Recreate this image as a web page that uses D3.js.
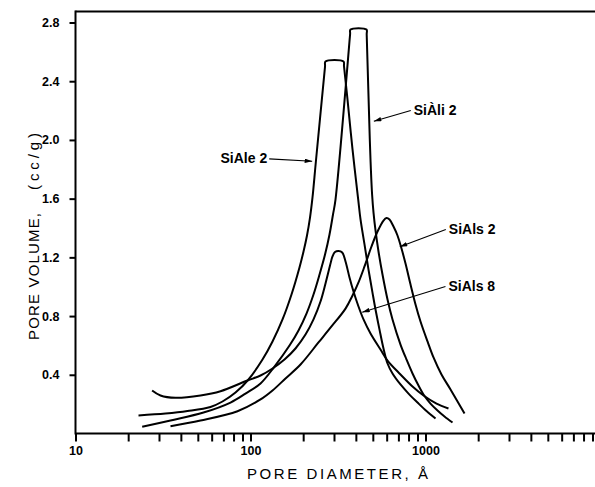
<!DOCTYPE html>
<html>
<head>
<meta charset="utf-8">
<script src="https://cdn.jsdelivr.net/npm/d3@7"></script>
<style>
body { margin: 0; background: #fff; }
svg { display: block; }
.axis path, .axis line { stroke: #000; stroke-width: 2; }
.axis text { font-family: "Liberation Sans", Arial, sans-serif; font-weight: bold; font-size: 12.5px; fill: #000; }
.curve { fill: none; stroke: #000; stroke-width: 2; stroke-linejoin: round; }
.lbl { font-family: "Liberation Sans", Arial, sans-serif; font-weight: bold; font-size: 14px; fill: #000; }
.ttl { font-family: "Liberation Sans", Arial, sans-serif; font-size: 15px; fill: #000; }
.pointer { stroke: #000; stroke-width: 1.1; }
</style>
</head>
<body>
<svg id="chart" width="595" height="487"></svg>
<script>
// pore diameter (Å) and pore volume (cc/g)
const sialeDiam = [22.91, 32.68, 43.65, 59.07, 69.18, 82.09, 97.41, 117.1, 133.6, 152.4, 171.5, 190.5, 200.9, 210.3, 218.8,
	226.1, 236.4, 266.6, 268.3, 340.0, 342.2, 358.4, 382.8, 412.6, 425.3, 448.2, 472.4, 497.8, 518.0, 546.0, 575.4,
	606.7, 647.9, 719.7, 799.8, 900.3, 1013, 1141];
const sialeVol = [0.123, 0.136, 0.153, 0.181, 0.218, 0.279, 0.368, 0.504, 0.627, 0.777, 0.947, 1.131, 1.240, 1.349, 1.471,
	1.608, 1.853, 2.500, 2.534, 2.534, 2.503, 2.275, 1.935, 1.594, 1.458, 1.288, 1.117, 0.960, 0.845, 0.708, 0.579,
	0.477, 0.409, 0.334, 0.272, 0.211, 0.153, 0.102];

const sialiDiam = [24.05, 34.9, 53.88, 76.87, 93.63, 114.1, 137.1, 167.1, 188.1, 208.9, 229.1, 248.0, 266.6, 282.8, 296.1,
	306.0, 370.8, 372.8, 460.0, 461.3, 480.5, 487.5, 495.3, 504.6, 518.0, 538.8, 567.9, 606.7, 647.9, 719.7, 778.9, 843.0,
	912.0, 974.0, 1068, 1171, 1284, 1427];
const sialiVol = [0.046, 0.089, 0.143, 0.211, 0.272, 0.341, 0.456, 0.599, 0.702, 0.817, 0.947, 1.083, 1.219, 1.356, 1.492,
	1.594, 2.721, 2.752, 2.752, 2.718, 2.003, 1.798, 1.628, 1.505, 1.383, 1.240, 1.083, 0.913, 0.777, 0.606, 0.504, 0.409,
	0.327, 0.266, 0.204, 0.157, 0.116, 0.075];

const sials8Diam = [27.4, 30.6, 37.3, 51.8, 67.4, 96.1, 114.1, 133.6, 156.4, 180.7, 206.2, 229.1, 251.2, 268.3, 284.7,
	294.1, 304.0, 318.3, 334.2, 349.1, 367.9, 387.8, 414.1, 442.4, 485.1, 553.1, 606.7, 719.7, 843.0, 974.0, 1156, 1353];
const sials8Vol = [0.293, 0.259, 0.243, 0.259, 0.288, 0.361, 0.395, 0.443, 0.504, 0.579, 0.674, 0.777, 0.899, 1.022, 1.144,
	1.206, 1.236, 1.243, 1.233, 1.172, 1.063, 0.967, 0.865, 0.777, 0.681, 0.572, 0.497, 0.402, 0.320, 0.259, 0.204, 0.170];

const sials2Diam = [34.9, 51.8, 84.3, 114.1, 133.6, 158.5, 193.1, 244.6, 290.3, 349.1, 382.8, 414.1, 448.2, 491.3, 531.9,
	575.4, 598.5, 622.8, 656.4, 691.8, 729.3, 768.8, 821.2, 877.0, 936.4, 1027, 1111, 1234, 1390, 1671];
const sials2Vol = [0.050, 0.089, 0.152, 0.232, 0.293, 0.375, 0.470, 0.620, 0.729, 0.851, 0.940, 1.029, 1.138, 1.274, 1.376,
	1.451, 1.468, 1.458, 1.410, 1.349, 1.260, 1.158, 1.015, 0.879, 0.763, 0.627, 0.518, 0.402, 0.300, 0.136];

const yTicks = [0.4, 0.8, 1.2, 1.6, 2.0, 2.4, 2.8];
const xLabelTicks = [10, 100, 1000];

// label text, where the text starts and the point the arrow touches (diameter, volume)
const labels = [
	{ text: "SiAle 2", at: [67.4, 1.878], to: [225.2, 1.855] },
	{ text: "SiA\u0300li 2", at: [857, 2.207], to: [506.7, 2.127] },
	{ text: "SiAls 2", at: [1359, 1.396], to: [713.1, 1.272] },
	{ text: "SiAls 8", at: [1353, 1.008], to: [434.8, 0.826] }
];

const series = [
	{ d: sialeDiam, v: sialeVol },
	{ d: sialiDiam, v: sialiVol },
	{ d: sials8Diam, v: sials8Vol },
	{ d: sials2Diam, v: sials2Vol }
];

var svg = d3.select('#chart');

var x = d3.scaleLog().domain([10, 10000]).range([75.5, 600.5]),
	y = d3.scaleLinear().domain([0, 2.8]).range([433.5, 22.5]);

var fmt = d => xLabelTicks.includes(d) ? String(d) : '';

// frame: top line and y axis line
svg.append('line')
	.attr('x1', 75.5).attr('x2', 595)
	.attr('y1', 11.5).attr('y2', 11.5)
	.attr('stroke', '#000').attr('stroke-width', 2);

svg.append('line')
	.attr('x1', 75.5).attr('x2', 75.5)
	.attr('y1', 10.5).attr('y2', 434.5)
	.attr('stroke', '#000').attr('stroke-width', 2);

svg.append('g')
	.attr('class', 'axis')
	.attr('transform', 'translate(0,433.5)')
	.call(d3.axisBottom(x)
		.tickValues(x.ticks().filter(t => t < 9500))
		.tickFormat(fmt)
		.tickSize(8)
		.tickPadding(5)
		.tickSizeOuter(0))
	.call(g => g.select('.domain').attr('d', 'M75.5,0H595'));

svg.append('g')
	.attr('class', 'axis')
	.attr('transform', 'translate(75.5,0)')
	.call(d3.axisLeft(y)
		.tickValues(yTicks)
		.tickFormat(d3.format('.1f'))
		.tickSize(6)
		.tickPadding(10))
	.call(g => g.select('.domain').remove());

// axis titles
svg.append('text')
	.attr('class', 'ttl')
	.attr('transform', 'translate(39,340) rotate(-90)')
	.attr('textLength', 127)
	.attr('lengthAdjust', 'spacing')
	.text('PORE VOLUME,');

svg.append('text')
	.attr('class', 'ttl')
	.attr('transform', 'translate(39,190) rotate(-90)')
	.attr('textLength', 57)
	.attr('lengthAdjust', 'spacing')
	.text('(cc/g)');

svg.append('text')
	.attr('class', 'ttl')
	.attr('x', 247).attr('y', 479)
	.attr('textLength', 181)
	.attr('lengthAdjust', 'spacing')
	.text('PORE DIAMETER, Å');

// curves
var line = d3.line()
	.x(p => x(p[0]))
	.y(p => y(p[1]))
	.curve(d3.curveCatmullRom.alpha(0.5));

svg.selectAll('.curve')
	.data(series)
	.enter()
	.append('path')
	.attr('class', 'curve')
	.attr('d', s => line(s.d.map((dd, i) => [dd, s.v[i]])));

// arrows
svg.append('defs').append('marker')
	.attr('id', 'head')
	.attr('viewBox', '0 0 10 6')
	.attr('refX', 10).attr('refY', 3)
	.attr('markerWidth', 8).attr('markerHeight', 4.5)
	.attr('markerUnits', 'userSpaceOnUse')
	.attr('orient', 'auto')
	.append('path')
	.attr('d', 'M0,0L10,3L0,6Z')
	.attr('fill', '#000');

labels.forEach(l => {
	let tx = x(l.at[0]), ty = y(l.at[1]);
	let t = svg.append('text')
		.attr('class', 'lbl')
		.attr('x', tx).attr('y', ty + 5)
		.text(l.text);
	let w = t.node().getComputedTextLength();
	// SiAle 2 points right, the others point left
	let fromX = x(l.to[0]) > tx ? tx + w + 2 : tx - 3;
	svg.append('line')
		.attr('class', 'pointer')
		.attr('x1', fromX).attr('y1', ty + 1)
		.attr('x2', x(l.to[0])).attr('y2', y(l.to[1]))
		.attr('marker-end', 'url(#head)');
});
</script>
</body>
</html>
